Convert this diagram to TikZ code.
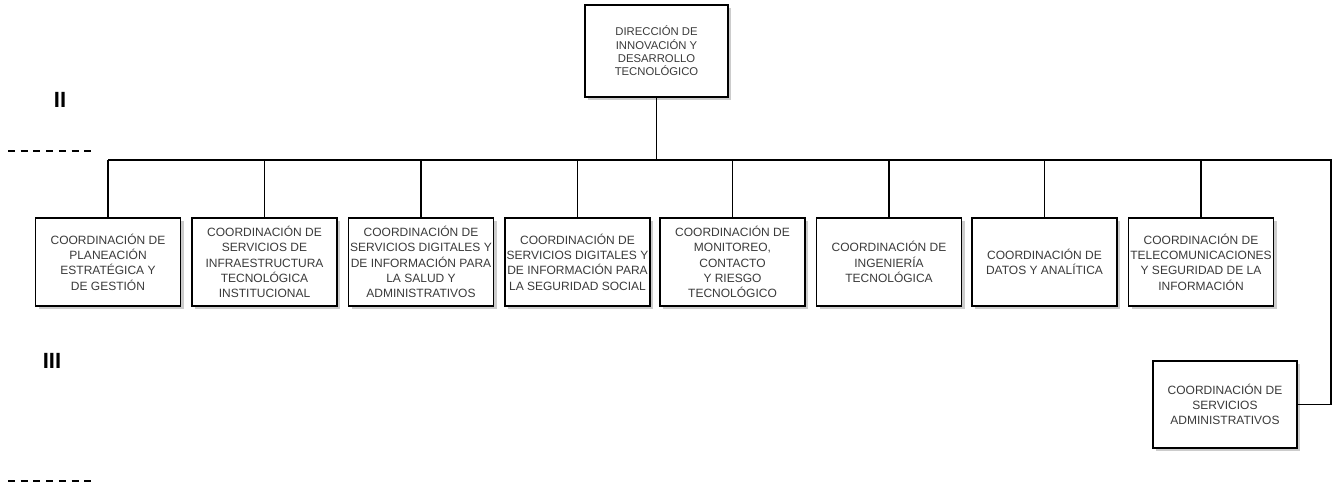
\documentclass[tikz,border=0pt]{standalone}
\usepackage{fontspec}
\setmainfont{Liberation Sans}
\usetikzlibrary{shadows}
\definecolor{txt}{HTML}{3A3A3A}
\begin{document}
\begin{tikzpicture}[x=1pt,y=-1pt,
  orgbox/.style={draw=black, line width=1.6pt, fill=white, minimum width=145pt, minimum height=88pt,
    align=center, inner sep=1pt, text=txt, font=\fontsize{12}{15.3}\selectfont,
    drop shadow={shadow xshift=3pt, shadow yshift=-3pt, fill=gray!50, opacity=0.8}},
  conn/.style={line width=1.5pt, draw=black},
  lvl/.style={font=\fontsize{22}{24}\selectfont\bfseries, text=black},
  sep/.style={line width=1.8pt, dash pattern=on 7pt off 5.7pt}]
\useasboundingbox (0,0) rectangle (1332,486);
\node[orgbox, minimum width=143pt, minimum height=92pt, font=\fontsize{11.3}{13.4}\selectfont] (top) at (656.5,51) {DIRECCIÓN DE\\INNOVACIÓN Y\\DESARROLLO\\TECNOLÓGICO};
\node[orgbox] (c1) at (108,262) {COORDINACIÓN DE\\PLANEACIÓN\\ESTRATÉGICA Y\\DE GESTIÓN};
\node[orgbox] (c2) at (264.5,262) {COORDINACIÓN DE\\SERVICIOS DE\\INFRAESTRUCTURA\\TECNOLÓGICA\\INSTITUCIONAL};
\node[orgbox] (c3) at (421,262) {COORDINACIÓN DE\\SERVICIOS DIGITALES Y\\DE INFORMACIÓN PARA\\LA SALUD Y\\ADMINISTRATIVOS};
\node[orgbox] (c4) at (577.5,262) {COORDINACIÓN DE\\SERVICIOS DIGITALES Y\\DE INFORMACIÓN PARA\\LA SEGURIDAD SOCIAL};
\node[orgbox] (c5) at (732.5,262) {COORDINACIÓN DE\\MONITOREO,\\CONTACTO\\Y RIESGO\\TECNOLÓGICO};
\node[orgbox] (c6) at (889,262) {COORDINACIÓN DE\\INGENIERÍA\\TECNOLÓGICA};
\node[orgbox] (c7) at (1044.5,262) {COORDINACIÓN DE\\DATOS Y ANALÍTICA};
\node[orgbox] (c8) at (1201,262) {COORDINACIÓN DE\\TELECOMUNICACIONES\\Y SEGURIDAD DE LA\\INFORMACIÓN};
\node[orgbox, minimum width=144pt, minimum height=87pt] (c9) at (1225,404.5) {COORDINACIÓN DE\\SERVICIOS\\ADMINISTRATIVOS};
\coordinate (busL) at (108,160);
\coordinate (busR) at (1331,160);
\draw[conn] (top.south) -- (top.south |- busL);
\draw[conn] (busL) -- (busR) |- (c9.east);
\foreach \n in {c1,c2,c3,c4,c5,c6,c7,c8}{
  \draw[conn] (\n.north) -- (\n.north |- busL);
}
\node[lvl] (l2) at (60,100) {II};
\node[lvl] (l3) at (52,361) {III};
\coordinate (d1a) at (8,151);
\coordinate (d1b) at (93,151);
\coordinate (d2a) at (8,481);
\coordinate (d2b) at (93,481);
\draw[sep] (d1a) -- (d1b);
\draw[sep] (d2a) -- (d2b);
\end{tikzpicture}
\end{document}
